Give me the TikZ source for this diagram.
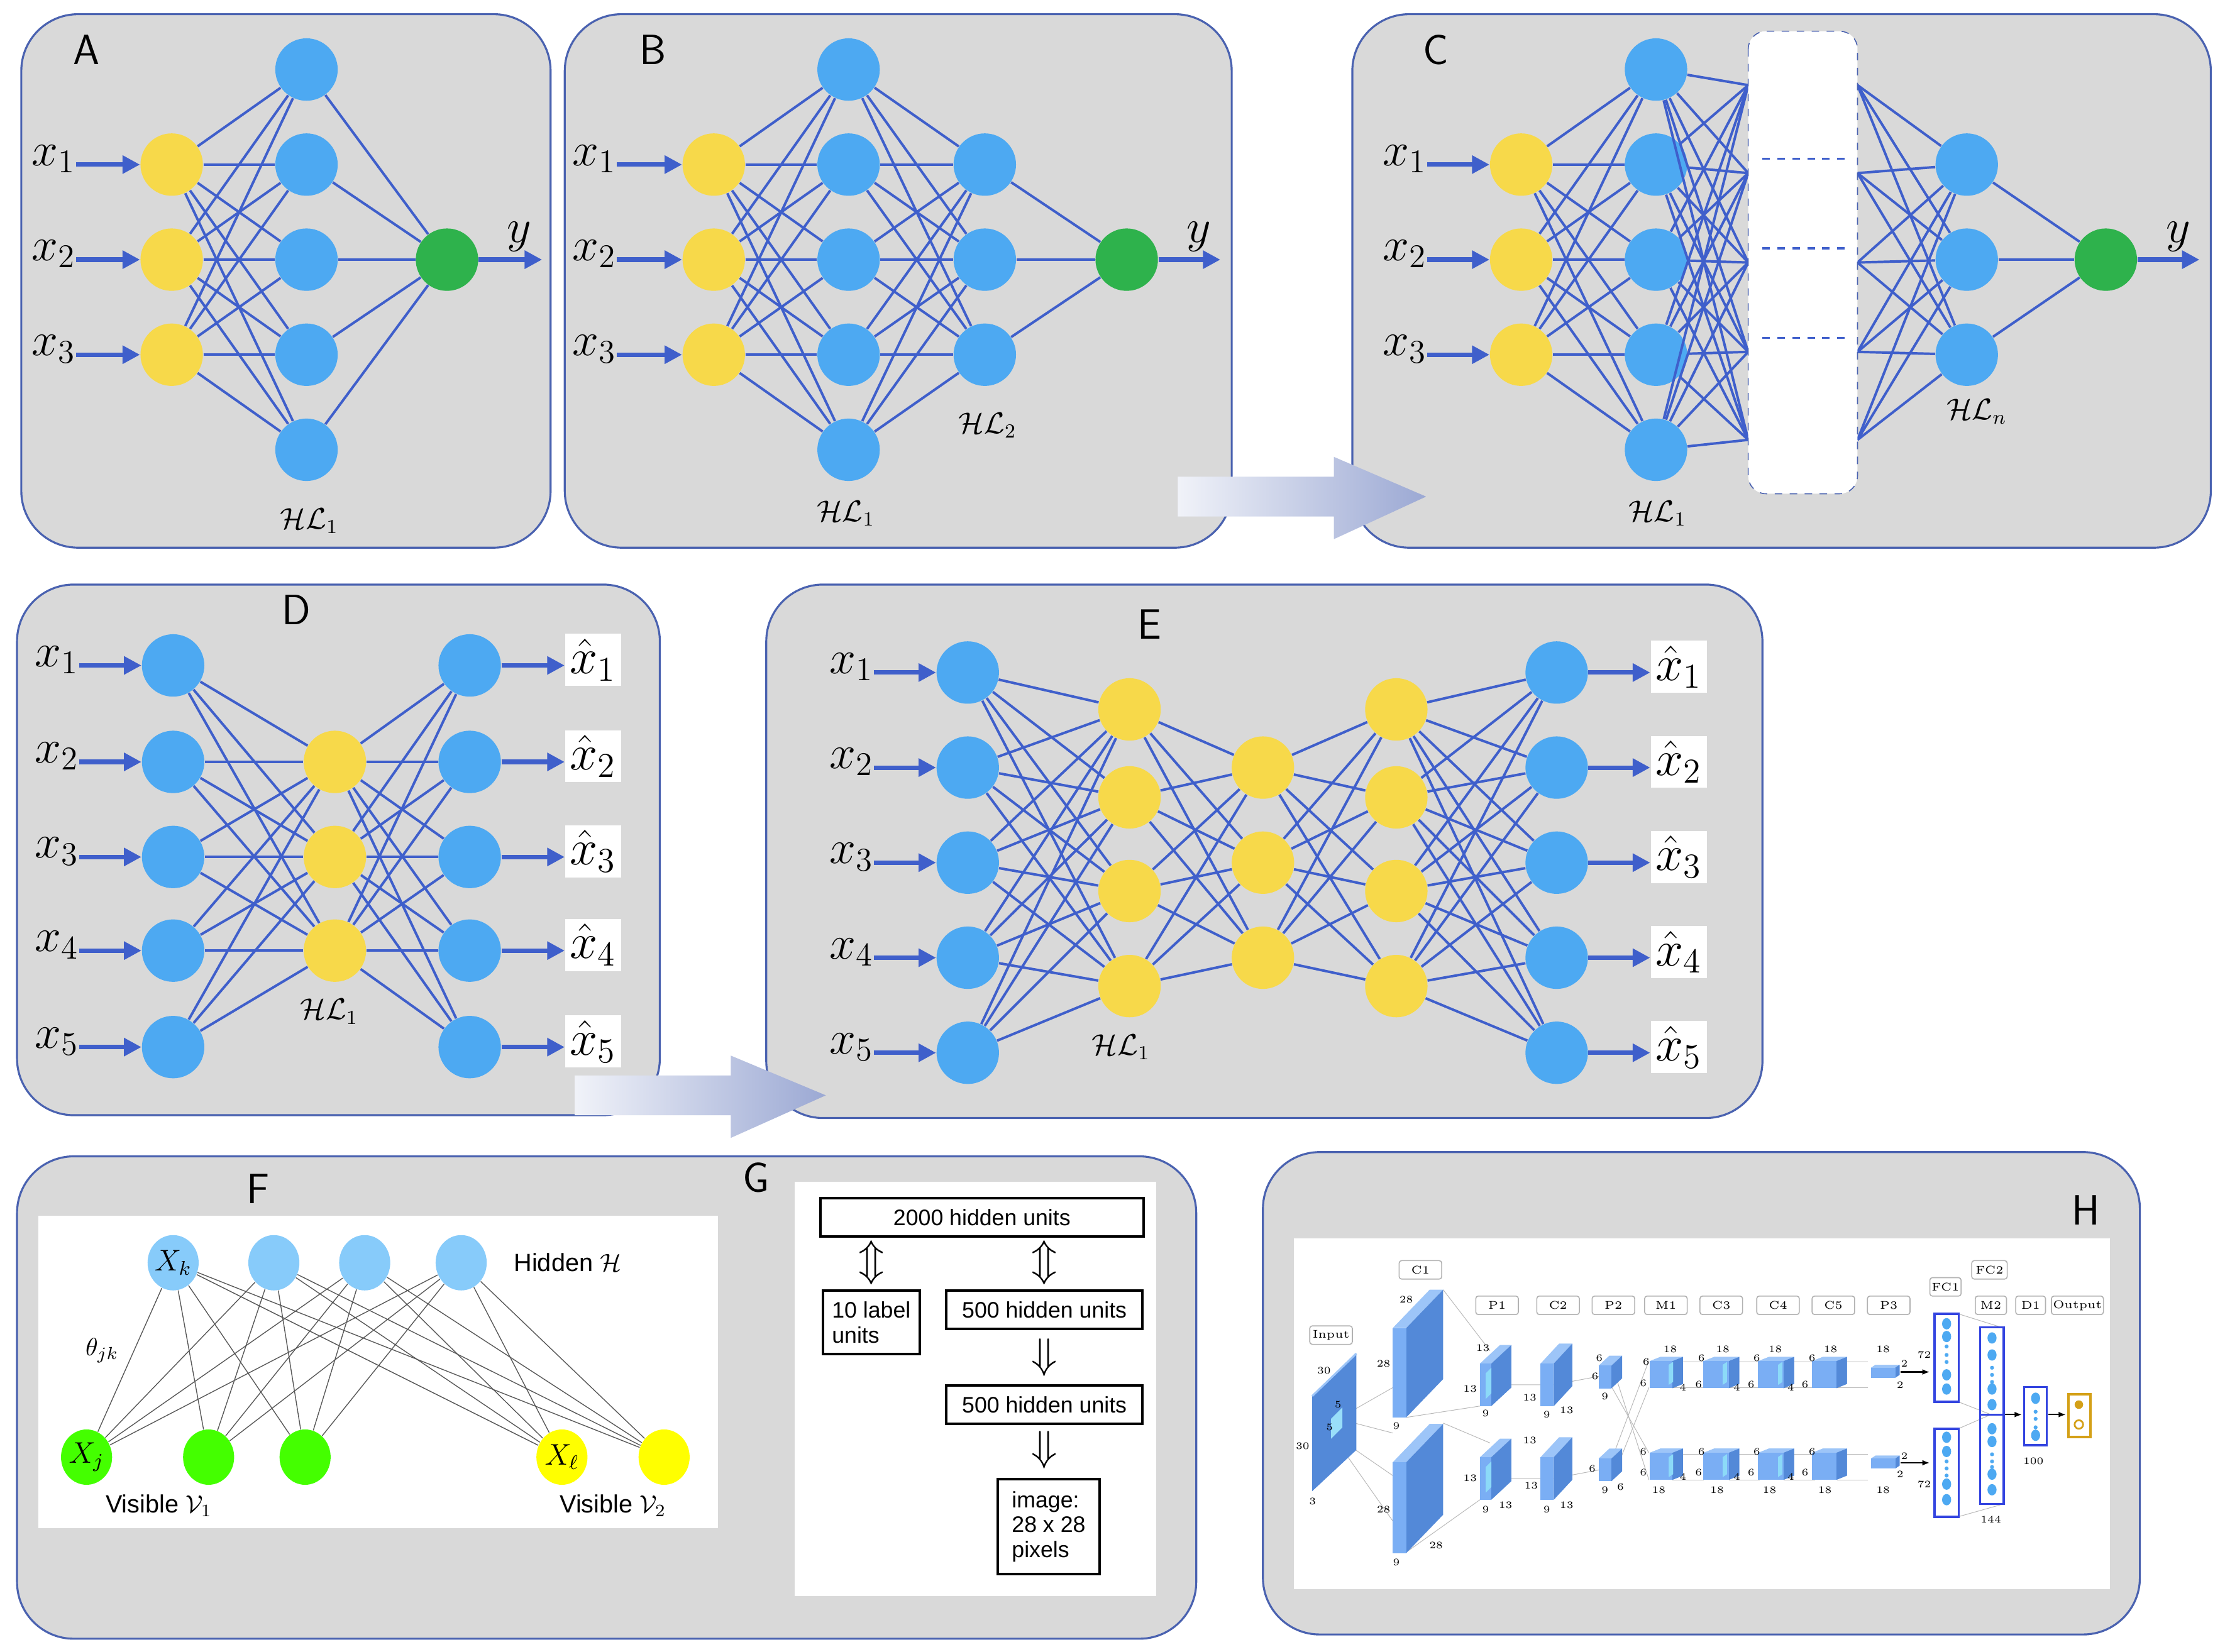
\RequirePackage{fix-cm}
\documentclass[tikz,border=0pt]{standalone}
\usepackage{amsmath}
\usepackage{amssymb}
\usepackage{fontspec}
\newfontfamily\sansf{Liberation Sans}
\usetikzlibrary{positioning,arrows.meta,shapes.geometric}
\definecolor{panelgray}{HTML}{D9D9D9}
\definecolor{frame}{HTML}{4A62B0}
\definecolor{nyel}{HTML}{F7D94A}
\definecolor{nblu}{HTML}{4DA9F2}
\definecolor{ngrn}{HTML}{2EB24C}
\definecolor{wirec}{HTML}{3F5FCB}
\definecolor{rbmblu}{HTML}{87CBFA}
\definecolor{rbmgrn}{HTML}{44FF00}
\definecolor{rbmyel}{HTML}{FFFF00}
\definecolor{cfront}{HTML}{7AAEF4}
\definecolor{ctop}{HTML}{9DC5F8}
\definecolor{cside}{HTML}{5389D8}
\definecolor{fcblue}{HTML}{3344E0}
\definecolor{gold}{HTML}{D4A017}
\tikzstyle{panel}=[draw=frame,fill=panelgray,line width=0.8pt,rounded corners=0.8cm]
\tikzstyle{neuron}=[circle,minimum size=0.88cm,inner sep=0pt]
\tikzstyle{yel}=[neuron,fill=nyel]
\tikzstyle{blu}=[neuron,fill=nblu]
\tikzstyle{grn}=[neuron,fill=ngrn]
\tikzstyle{wire}=[draw=wirec,line width=1pt]
\tikzstyle{feed}=[draw=wirec,line width=1.8pt,-{Triangle[length=7pt,width=7pt]}]
\tikzstyle{xlab}=[inner sep=0pt,font=\fontsize{19}{21}\selectfont]
\tikzstyle{hatbox}=[fill=white,inner sep=2pt,font=\fontsize{20}{22}\selectfont]
\tikzstyle{letter}=[font=\fontsize{17}{19}\sffamily]
\tikzstyle{hl}=[font=\fontsize{12}{13}\selectfont]
\tikzstyle{rbm}=[ellipse,minimum width=0.72cm,minimum height=0.78cm,inner sep=0pt,font=\fontsize{12}{13}\selectfont]
\tikzstyle{rbmw}=[draw=gray!70!black,line width=0.35pt]
\tikzstyle{dbn}=[draw,line width=1pt,inner sep=2pt,font=\fontsize{9}{10}\sansf]
\tikzstyle{tinyl}=[inner sep=0pt,font=\fontsize{4}{4.5}\selectfont]
\tikzstyle{tag}=[draw=gray!60,fill=white,rounded corners=1pt,inner sep=0.6pt,minimum width=0.6cm,minimum height=0.26cm,font=\fontsize{4.5}{5}\selectfont]
\tikzstyle{fc}=[draw=fcblue,line width=0.9pt]
\tikzstyle{cnnwire}=[draw=gray!55,line width=0.25pt]
\newcommand{\cnnblock}[6]{%
  \fill[ctop] (#1,#2) -- ++(#5,#6) -- ++(#3,0) -- (#1+#3,#2) -- cycle;
  \fill[cside] (#1+#3,#2) -- ++(#5,#6) -- ++(0,#4) -- (#1+#3,#2+#4) -- cycle;
  \fill[cfront] (#1,#2) rectangle ++(#3,#4);}
\newcommand{\bigarrow}[3]{%
  \shade[left color=white!92!frame,right color=frame!55!white]
    (#1,#3-14) -- (#1+110,#3-14) -- (#1+110,#3-28) -- (#2,#3) -- (#1+110,#3+30) -- (#1+110,#3+14) -- (#1,#3+14) -- cycle;}
\begin{document}
\begin{tikzpicture}[x=0.02cm,y=-0.02cm]
\useasboundingbox (0,0) rectangle (1568,1164);
\fill[white] (0,0) rectangle (1568,1164);
% panels
\draw[panel] (15,10) rectangle (388,386);
\draw[panel] (398,10) rectangle (868,386);
\draw[panel] (953,10) rectangle (1558,386);
\draw[panel] (12,412) rectangle (465,786);
\draw[panel] (540,412) rectangle (1242,788);
\draw[panel] (12,815) rectangle (843,1155);
\draw[panel] (890,812) rectangle (1508,1152);

% A
\node[letter] at (61,35) {A};
\foreach \j/\y in {1/49,2/116,3/183,4/250,5/317} \node[blu] (a-h\j) at (216,\y) {};
\node[grn] (a-o) at (315,183) {};
\foreach \i/\y in {1/116,2/183,3/250} {
  \node[yel] (a-i\i) at (121,\y) {};
  \node[xlab] (a-x\i) at (38,\y-4) {$x_\i$};
  \draw[feed] (a-x\i.east|-a-i\i) -- (a-i\i);
  \foreach \j in {1,...,5} \draw[wire] (a-i\i) -- (a-h\j);
}
\foreach \j in {1,...,5} \draw[wire] (a-h\j) -- (a-o);
\coordinate (a-y) at (382,183);
\draw[feed] (a-o) -- (a-y);
\node[xlab] at (366,167) {$y$};
\node[hl] at (218,367) {$\mathcal{HL}_1$};

% B
\node[letter] at (460,35) {B};
\foreach \j/\y in {1/49,2/116,3/183,4/250,5/317} \node[blu] (b-h\j) at (598,\y) {};
\foreach \k/\y in {1/116,2/183,3/250} \node[blu] (b-g\k) at (694,\y) {};
\node[grn] (b-o) at (794,183) {};
\foreach \i/\y in {1/116,2/183,3/250} {
  \node[yel] (b-i\i) at (503,\y) {};
  \node[xlab] (b-x\i) at (419,\y-4) {$x_\i$};
  \draw[feed] (b-x\i.east|-b-i\i) -- (b-i\i);
  \foreach \j in {1,...,5} \draw[wire] (b-i\i) -- (b-h\j);
  \draw[wire] (b-g\i) -- (b-o);
}
\foreach \j in {1,...,5} \foreach \k in {1,2,3} \draw[wire] (b-h\j) -- (b-g\k);
\coordinate (b-y) at (860,183);
\draw[feed] (b-o) -- (b-y);
\node[xlab] at (845,167) {$y$};
\node[hl] at (696,300) {$\mathcal{HL}_2$};
\node[hl] at (596,362) {$\mathcal{HL}_1$};

% C
\node[letter] at (1012,35) {C};
\foreach \j/\y in {1/49,2/116,3/183,4/250,5/317} \node[blu] (c-h\j) at (1167,\y) {};
\foreach \k/\y in {1/116,2/183,3/250} \node[blu] (c-g\k) at (1386,\y) {};
\node[grn] (c-o) at (1484,183) {};
\foreach \m/\y in {1/60,2/122,3/185,4/248,5/310} {
  \coordinate (c-l\m) at (1232,\y);
  \coordinate (c-r\m) at (1309,\y);
}
\foreach \i/\y in {1/116,2/183,3/250} {
  \node[yel] (c-i\i) at (1072,\y) {};
  \node[xlab] (c-x\i) at (990,\y-4) {$x_\i$};
  \draw[feed] (c-x\i.east|-c-i\i) -- (c-i\i);
  \foreach \j in {1,...,5} \draw[wire] (c-i\i) -- (c-h\j);
  \draw[wire] (c-g\i) -- (c-o);
  \foreach \m in {1,...,5} \draw[wire] (c-r\m) -- (c-g\i);
}
\foreach \j in {1,...,5} \foreach \m in {1,...,5} \draw[wire] (c-h\j) -- (c-l\m);
\draw[fill=white,draw=frame,dashed,rounded corners=0.25cm] (1232,22) rectangle (1309,348);
\foreach \y in {112,175,238} \draw[wirec,dashed,line width=0.8pt] (1242,\y) -- (1302,\y);
\coordinate (c-y) at (1550,183);
\draw[feed] (c-o) -- (c-y);
\node[xlab] at (1535,167) {$y$};
\node[hl] at (1393,290) {$\mathcal{HL}_n$};
\node[hl] at (1168,362) {$\mathcal{HL}_1$};

% D
\node[letter] at (209,430) {D};
\foreach \k/\y in {1/537,2/604,3/670} \node[yel] (d-h\k) at (236,\y) {};
\foreach \i/\y in {1/469,2/537,3/604,4/670,5/738} {
  \node[blu] (d-i\i) at (122,\y) {};
  \node[blu] (d-o\i) at (331,\y) {};
  \node[xlab] (d-x\i) at (40,\y-4) {$x_\i$};
  \node[hatbox] (d-y\i) at (418,\y-4) {$\hat{x}_\i$};
  \draw[feed] (d-x\i.east|-d-i\i) -- (d-i\i);
  \draw[feed] (d-o\i) -- (d-y\i.west|-d-o\i);
  \foreach \k in {1,2,3} {\draw[wire] (d-i\i) -- (d-h\k); \draw[wire] (d-h\k) -- (d-o\i);}
}
\node[hl] at (232,713) {$\mathcal{HL}_1$};

% E
\node[letter] at (810,440) {E};
\foreach \k/\y in {1/500,2/562,3/628,4/695} {
  \node[yel] (e-p\k) at (796,\y) {};
  \node[yel] (e-r\k) at (984,\y) {};
}
\foreach \k/\y in {1/541,2/608,3/675} \node[yel] (e-q\k) at (890,\y) {};
\foreach \i/\y in {1/474,2/541,3/608,4/675,5/742} {
  \node[blu] (e-i\i) at (682,\y) {};
  \node[blu] (e-o\i) at (1097,\y) {};
  \node[xlab] (e-x\i) at (600,\y-4) {$x_\i$};
  \node[hatbox] (e-y\i) at (1183,\y-4) {$\hat{x}_\i$};
  \draw[feed] (e-x\i.east|-e-i\i) -- (e-i\i);
  \draw[feed] (e-o\i) -- (e-y\i.west|-e-o\i);
  \foreach \k in {1,...,4} {\draw[wire] (e-i\i) -- (e-p\k); \draw[wire] (e-r\k) -- (e-o\i);}
}
\foreach \k in {1,...,4} \foreach \m in {1,2,3} {\draw[wire] (e-p\k) -- (e-q\m); \draw[wire] (e-q\m) -- (e-r\k);}
\node[hl] at (790,738) {$\mathcal{HL}_1$};

% arrows between panels
\bigarrow{830}{1005}{350}
\bigarrow{405}{582}{772}

% F
\node[letter] at (182,838) {F};
\fill[white] (27,857) rectangle (506,1077);
\foreach \k/\x in {1/122,2/193,3/257,4/325} \node[rbm,fill=rbmblu] (f-h\k) at (\x,890) {};
\foreach \v/\x in {1/61,2/147,3/215} \node[rbm,fill=rbmgrn] (f-v\v) at (\x,1027) {};
\foreach \v/\x in {4/396,5/468} \node[rbm,fill=rbmyel] (f-v\v) at (\x,1027) {};
\foreach \k in {1,...,4} \foreach \v in {1,...,5} \draw[rbmw] (f-h\k) -- (f-v\v);
\node[font=\fontsize{12}{13}\selectfont] at (f-h1) {$X_k$};
\node[font=\fontsize{12}{13}\selectfont] at (f-v1) {$X_j$};
\node[font=\fontsize{12}{13}\selectfont] at (f-v4) {$X_\ell$};
\node[font=\fontsize{10}{11}\sansf] at (400,890) {Hidden $\mathcal{H}$};
\node[font=\fontsize{10}{11}\sansf] at (112,1061) {Visible $\mathcal{V}_1$};
\node[font=\fontsize{10}{11}\sansf] at (432,1061) {Visible $\mathcal{V}_2$};
\node[font=\fontsize{10}{11}\selectfont] at (72,952) {$\theta_{jk}$};

% G
\node[letter] at (533,830) {G};
\fill[white] (560,833) rectangle (815,1125);
\node[dbn,minimum width=4.56cm,minimum height=0.54cm] (g-top) at (692,858) {2000 hidden units};
\node[dbn,minimum width=1.36cm,minimum height=0.9cm,align=left] (g-lab) at (614,932) {10 label\\units};
\node[dbn,minimum width=2.76cm,minimum height=0.54cm] (g-h2) at (736,923) {500 hidden units};
\node[dbn,minimum width=2.76cm,minimum height=0.54cm] (g-h1) at (736,990) {500 hidden units};
\node[dbn,minimum width=1.44cm,minimum height=1.34cm,align=left] (g-img) at (739,1076) {image:\\28 x 28\\pixels};
\node[font=\fontsize{17}{18}\selectfont] at (614,890) {$\Updownarrow$};
\node[font=\fontsize{17}{18}\selectfont] at (736,890) {$\Updownarrow$};
\node[font=\fontsize{17}{18}\selectfont] at (736,957) {$\Downarrow$};
\node[font=\fontsize{17}{18}\selectfont] at (736,1022) {$\Downarrow$};

% H
\node[letter] at (1470,853) {H};
\fill[white] (912,873) rectangle (1487,1120);
% gray links
\foreach \y in {978,1010} \draw[cnnwire] (943,1000) -- (981.5,\y) (938,1010) -- (981.5,\y+62);
\draw[cnnwire] (1017,909) -- (1050,952) (991,999) -- (1043,991) (1017,1003) -- (1050,1017) (991,1094) -- (1043,1057);
\draw[cnnwire] (1051,976) -- (1086,976) (1051,1042) -- (1086,1042) (1095,976) -- (1127,970) (1095,1042) -- (1127,1036);
\foreach \a/\b in {978/1024,962/1043,1028/959,1043/978} \draw[cnnwire] (1136,\a) -- (1162,\b);
\foreach \x in {1178.5,1218.2,1257,1294.5} {\draw[cnnwire] (\x,960) -- (\x+22,960) (\x,978) -- (\x+22,978) (\x,1025) -- (\x+22,1025) (\x,1043) -- (\x+22,1043);}
\draw[cnnwire] (1380,926) -- (1412,936) (1380,988) -- (1403,997) (1380,1007) -- (1403,997) (1380,1069) -- (1412,1060);
% input slab
\fill[cside] (924.7,984) -- (955.8,954) -- (955.8,1022) -- (924.7,1051) -- cycle;
\draw[ctop,line width=0.8pt] (924.7,984) -- (955.8,954);
\fill[cyan!40] (938,1000) -- (946,992) -- (946,1006) -- (938,1014) -- cycle;
% blocks
\foreach \yt/\yb in {936/1030.6} {\cnnblock{981.5}{\yt}{9.5}{63}{26}{-27} \cnnblock{981.5}{\yb}{9.5}{64}{26}{-27}}
\foreach \y in {961,1027} {\cnnblock{1043}{\y}{8}{30}{14}{-13} \cnnblock{1085.7}{\y}{9.3}{30}{13}{-14}}
\foreach \y in {962.5,1028} \cnnblock{1126.6}{\y}{9}{16}{7.5}{-7}
\foreach \y in {959.4,1024} {\cnnblock{1162.5}{\y}{16}{19}{7.5}{-3} \cnnblock{1200.4}{\y}{17.8}{19}{7.5}{-3}
  \cnnblock{1239}{\y}{17.8}{19}{7.5}{-3} \cnnblock{1277}{\y}{17}{19}{7.5}{-3}}
\foreach \y in {964,1028} \cnnblock{1318.6}{\y}{17}{7}{3}{-2}
\foreach \x in {1176,1214,1253} \foreach \y in {960,1025} \fill[cyan!45] (\x,\y+2) -- ++(3,-2) -- ++(0,14) -- ++(-3,2) -- cycle;
\foreach \y in {963,1029} \fill[cyan!45] (1047,\y+5) -- ++(4,-4) -- ++(0,18) -- ++(-4,4) -- cycle;
% tags
\node[tag] at (938,941) {Input};
\node[tag] at (1001,895) {C1};
\foreach \t/\x in {P1/1055,C2/1098,P2/1137,M1/1174,C3/1213,C4/1253,C5/1292,P3/1331} \node[tag] at (\x,920) {\t};
\node[tag,minimum width=0.44cm] at (1371,907) {FC1};
\node[tag,minimum width=0.5cm] at (1402,895) {FC2};
\node[tag,minimum width=0.44cm] at (1403,920) {M2};
\node[tag,minimum width=0.42cm] at (1431,920) {D1};
\node[tag,minimum width=0.66cm] at (1464,920) {Output};
% fully connected
\draw[fc] (1363.3,926) rectangle (1380.3,988);
\draw[fc] (1363.3,1007) rectangle (1380.3,1069);
\draw[fc] (1395.5,935.6) rectangle (1412.1,1060);
\draw[fc] (1395.5,997) -- (1412.1,997);
\draw[fc] (1426.5,977.6) rectangle (1442.4,1018.7);
\draw[draw=gold,line width=1pt] (1457.6,982.6) rectangle (1473,1012.7);
\foreach \y in {933,942,969,979,1013,1023,1046,1057} \fill[nblu] (1371.8,\y) ellipse (3.2 and 4);
\foreach \y in {949,955,960,1030,1035,1040} \fill[nblu] (1371.8,\y) circle (1.4);
\foreach \y in {943,955,979,990,1007,1016,1039,1050} \fill[nblu] (1403.8,\y) ellipse (3.2 and 4);
\foreach \y in {964,969,974,1025,1030,1034} \fill[nblu] (1403.8,\y) circle (1.4);
\foreach \y in {985.5,1011.6} \fill[nblu] (1434.5,\y) ellipse (3.2 and 4);
\foreach \y in {995,1000,1006} \fill[nblu] (1434.5,\y) circle (1.4);
\fill[gold] (1465,990) circle (3);
\draw[gold,line width=0.7pt] (1465,1004) circle (3);
\foreach \y in {967,1031} \draw[-{Latex[length=3pt]},line width=0.6pt] (1339.4,\y) -- (1360,\y);
\draw[-{Latex[length=3pt]},line width=0.6pt] (1413,997) -- (1425,997);
\draw[-{Latex[length=3pt]},line width=0.6pt] (1443.5,997) -- (1456,997);
% sizes
\foreach \t/\x/\y in {30/933/966,30/918/1019,3/925/1058,5/943/990,5/937/1006,28/991/916,28/975/961,9/984/1005,
  13/1045/950,13/1036/979,9/1047/996,13/1078/985,9/1090/997,13/1104/994,6/1127/957,6/1124/970,9/1131/984,
  18/1177/951,6/1160/960,6/1158/975,4/1186/978,18/1214/951,6/1199/957,6/1197/976,4/1224/978,
  18/1251/951,6/1238/957,6/1234/976,4/1262/978,18/1290/951,6/1277/957,6/1272/976,
  18/1327/951,2/1342/961,2/1339/976,72/1356/955,
  13/1078/1015,13/1036/1042,9/1047/1064,13/1061/1061,13/1079/1047,9/1090/1064,13/1104/1061,
  6/1122/1035,9/1131/1050,6/1142/1048,6/1158/1023,6/1158/1038,4/1186/1041,18/1169/1050,
  6/1199/1023,6/1197/1038,4/1224/1041,18/1210/1050,6/1238/1023,6/1234/1038,4/1262/1041,18/1247/1050,
  6/1277/1023,6/1272/1038,18/1286/1050,2/1342/1026,2/1339/1039,18/1327/1050,72/1356/1046,
  28/975/1064,28/1012/1089,9/984/1101,144/1403/1071,100/1433/1030}
  \node[tinyl] at (\x,\y) {\t};
\end{tikzpicture}
\end{document}
